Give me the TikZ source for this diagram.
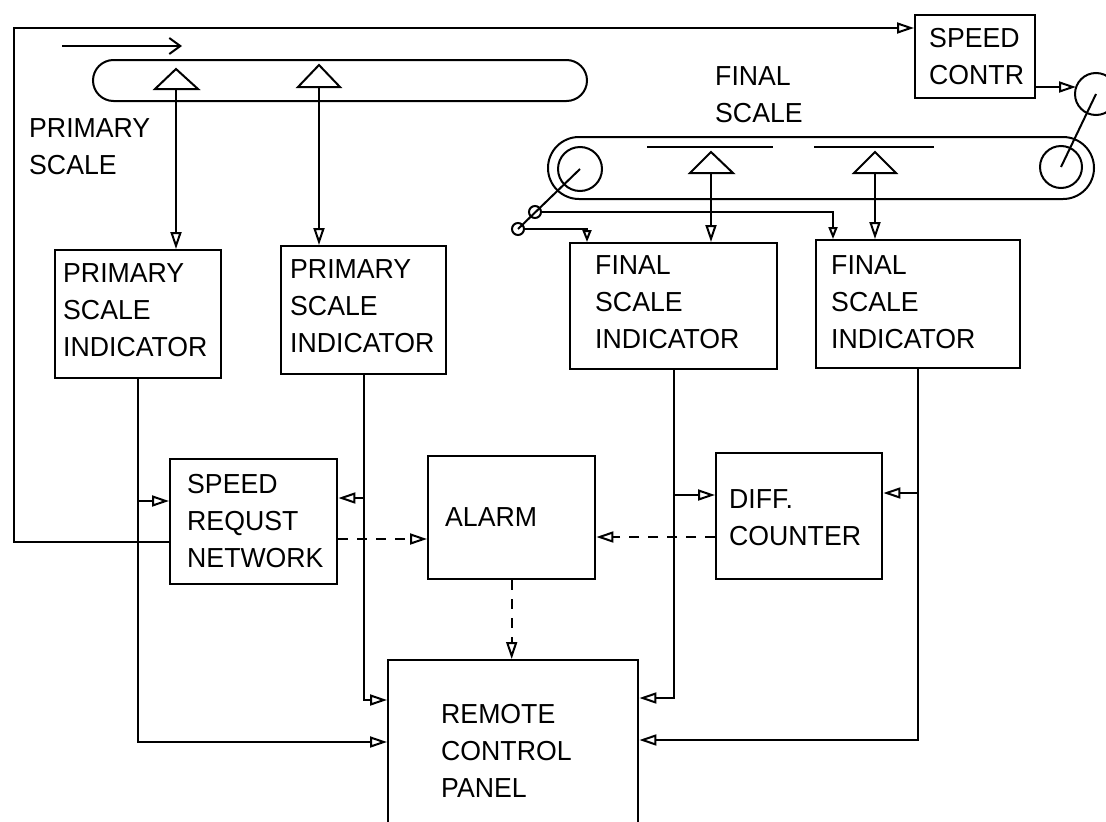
\documentclass[tikz,border=0pt]{standalone}
\usepackage{fontspec}
\setmainfont[FakeStretch=0.97]{Liberation Sans}
\usetikzlibrary{arrows.meta,calc}
\begin{document}
\begin{tikzpicture}[x=1pt,y=-1pt,
  ln/.style={line width=2pt},
  box/.style={draw,line width=2.4pt,inner sep=0pt,anchor=north west},
  lbl/.style={font=\fontsize{27.5pt}{37pt}\selectfont,align=left,inner sep=0pt,anchor=north west},
  arr/.style={ln,-{Triangle[open,length=17pt,width=11pt,line width=2pt]}},
  sarr/.style={ln,-{Triangle[open,length=12pt,width=9pt,line width=2pt]}},
  dsh/.style={dash pattern=on 10pt off 9pt}]
\useasboundingbox (0,0) rectangle (1106,822);
\clip (0,0) rectangle (1106,822);

% boxes
\node[box,minimum width=166pt,minimum height=128pt] (psi1) at (54,249) {};
\node[box,minimum width=165pt,minimum height=128pt] (psi2) at (280,245) {};
\node[box,minimum width=207pt,minimum height=126pt] (fsi1) at (569,242) {};
\node[box,minimum width=204pt,minimum height=128pt] (fsi2) at (815,239) {};
\node[box,minimum width=167pt,minimum height=125pt] (srn) at (169,458) {};
\node[box,minimum width=167pt,minimum height=123pt] (alarm) at (427,455) {};
\node[box,minimum width=166pt,minimum height=126pt] (diff) at (715,452) {};
\node[box,minimum width=250pt,minimum height=180pt] (rcp) at (387,659) {};
\node[box,minimum width=120pt,minimum height=83pt] (sc) at (914,14) {};

% texts
\node[lbl] (tpsi1) at (63,263) {PRIMARY\\SCALE\\INDICATOR};
\node[lbl] (tpsi2) at (290,259) {PRIMARY\\SCALE\\INDICATOR};
\node[lbl] (tfsi1) at (595,255) {FINAL\\SCALE\\INDICATOR};
\node[lbl] (tfsi2) at (831,255) {FINAL\\SCALE\\INDICATOR};
\node[lbl] (tsrn) at (187,474) {SPEED\\REQUST\\NETWORK};
\node[lbl] (talarm) at (445,507) {ALARM};
\node[lbl] (tdiff) at (729,489) {DIFF.\\COUNTER};
\node[lbl] (trcp) at (441,704) {REMOTE\\CONTROL\\PANEL};
\node[lbl] (tsc) at (929,28) {SPEED\\CONTR};
\node[lbl] (tps) at (29,118) {PRIMARY\\SCALE};
\node[lbl] (tfs) at (715,66) {FINAL\\SCALE};

% primary conveyor
\draw[ln,rounded corners=20.5pt] (93,60) rectangle (587,101);
\draw[ln,-{Straight Barb[length=11pt,width=16pt,line width=2pt]}] (62,46) -- (182,46);
\coordinate (pt1) at (176,89);
\coordinate (pt2) at (319,87);
\draw[ln] ($(pt1)+(-21,0)$) -- ($(pt1)+(0,-20)$) -- ($(pt1)+(22,0)$) -- cycle;
\draw[ln] ($(pt2)+(-21,0)$) -- ($(pt2)+(0,-22)$) -- ($(pt2)+(21,0)$) -- cycle;
\draw[arr] (pt1) -- (pt1 |- psi1.north);
\draw[arr] (pt2) -- (pt2 |- psi2.north);

% final conveyor
\draw[ln,rounded corners=31pt] (548,137) rectangle (1094,199);
\coordinate (ld) at (580,169);
\coordinate (rd) at (1061,167);
\coordinate (mot) at (1096,94);
\draw[ln] (ld) circle[radius=22];
\draw[ln] (rd) circle[radius=21];
\draw[ln] (mot) circle[radius=21];
\draw[ln] (mot) -- (rd);
\draw[ln] (647,147) -- (773,147);
\draw[ln] (814,147) -- (934,147);
\coordinate (ft1) at (711,173);
\coordinate (ft2) at (875,173);
\draw[ln] ($(ft1)+(-21,0)$) -- ($(ft1)+(0,-21)$) -- ($(ft1)+(22,0)$) -- cycle;
\draw[ln] ($(ft2)+(-21,0)$) -- ($(ft2)+(0,-21)$) -- ($(ft2)+(21,0)$) -- cycle;
\draw[arr] (ft1) -- (ft1 |- fsi1.north);
\draw[arr] (ft2) -- (ft2 |- fsi2.north);

% linkage
\coordinate (lk1) at (535,212);
\coordinate (lk2) at (518,229);
\draw[ln] (ld) -- (lk2);
\draw[ln] (lk1) circle[radius=6];
\draw[ln] (lk2) circle[radius=6];
\draw[sarr] ($(lk1)+(6,0)$) -| (833,239);
\draw[sarr] ($(lk2)+(6,0)$) -| (587,242);

% speed control loop
\draw[arr] (srn.west |- 0,542) -- (14,542) -- (14,28) -- (sc.west |- 0,28);
\draw[arr] (sc.east |- 0,87) -- (1076,87);

% indicator outputs
\draw[arr] (psi1.south) |- (rcp.west |- 0,742);
\draw[arr] (psi1.south |- 0,501) -- (srn.west |- 0,501);
\draw[arr] (psi2.south) |- (rcp.west |- 0,700);
\draw[arr] (psi2.south |- 0,498) -- (srn.east |- 0,498);
\draw[arr] (fsi1.south) |- (rcp.east |- 0,698);
\draw[arr] (fsi1.south |- 0,495) -- (diff.west |- 0,495);
\draw[arr] (fsi2.south) |- (rcp.east |- 0,740);
\draw[arr] (fsi2.south |- 0,493) -- (diff.east |- 0,493);

% alarm signals
\draw[arr,dsh] (srn.east |- 0,539) -- (alarm.west |- 0,539);
\draw[arr,dsh] (diff.west |- 0,537) -- (alarm.east |- 0,537);
\draw[arr,dsh] (alarm.south) -- (alarm.south |- rcp.north);
\end{tikzpicture}
\end{document}
